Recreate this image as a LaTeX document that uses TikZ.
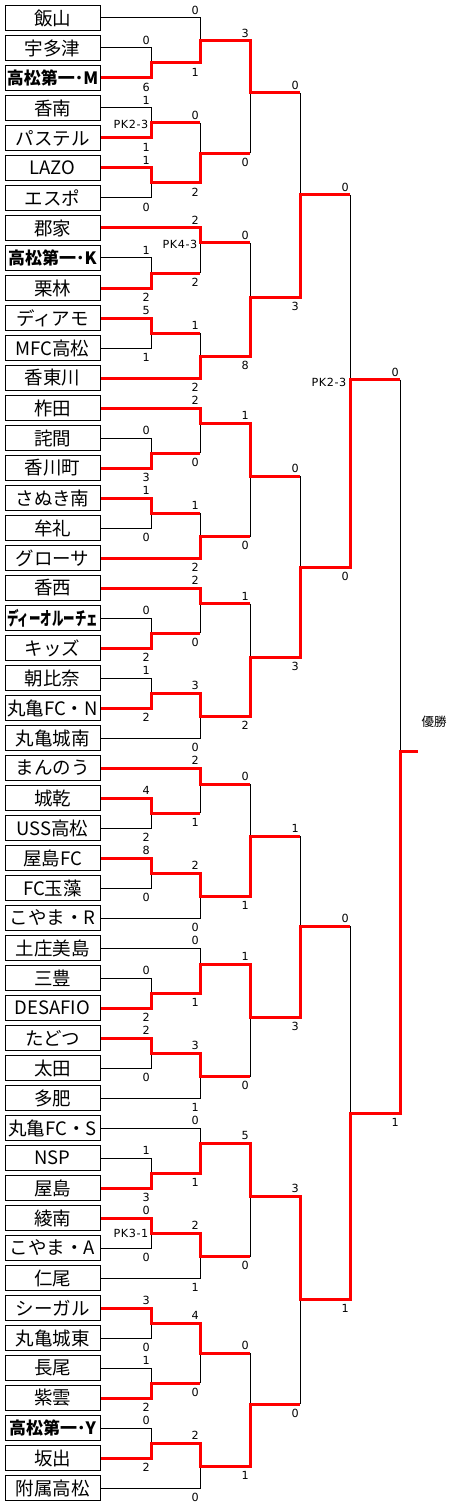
\documentclass[tikz,border=0pt]{standalone}
\usepackage{fontspec}
\newfontfamily\jpfont{Noto Sans CJK JP}
\newfontfamily\numfont[LetterSpace=5]{DejaVu Sans}
\usetikzlibrary{calc, backgrounds}
\definecolor{winred}{HTML}{FF0000}

\newcommand\boldname[1]{{\fontsize{17}{18}\selectfont\bfseries #1}}
\newcommand\squeezename[1]{\scalebox{0.62}[1]{\bfseries #1}}

% bracket legs
\newcommand\teamwin[2]{\draw[win] (#1.east) -| (#2);}
\newcommand\teamlose[2]{\draw[lose] (#1.east) -| (#2);}
\newcommand\gamewin[2]{\draw[win] (#1) -| (#2);}
\newcommand\gamelose[2]{\draw[win, line cap=butt] (#1) -- (#1 -| #2);
  \draw[lose] (#1 -| #2) -- (#2);}
\newcommand\scores[5]{%
  \node[score] (#1t) at ($(#2 -| #1)+(-4.8,-7.4)$) {#4};
  \node[score] (#1b) at ($(#3 -| #1)+(-4.8,9.2)$) {#5};}

\begin{document}
\begin{tikzpicture}[x=1pt, y=-1pt,
  team/.style={draw, line width=1pt, fill=white, minimum width=95pt, minimum height=25.4pt,
               inner sep=0pt, font=\jpfont\fontsize{18.5}{20}\selectfont},
  win/.style={winred, line width=3pt, line cap=rect},
  lose/.style={black, line width=1pt},
  score/.style={font=\numfont\fontsize{11.2}{12}\selectfont, inner sep=0pt},
  pk/.style={score, anchor=east},
]
  \useasboundingbox (0,0) rectangle (450,1506);

  \foreach \name [count=\i from 0] in {飯山, 宇多津, \boldname{高松第一･M}, 香南, パステル,
      LAZO, エスポ, 郡家, \boldname{高松第一･K}, 栗林, ディアモ, MFC高松, 香東川, 柞田, 詫間,
      香川町, さぬき南, 牟礼, グローサ, 香西, \squeezename{ディーオルーチェ}, キッズ, 朝比奈,
      丸亀FC・N, 丸亀城南, まんのう, 城乾, USS高松, 屋島FC, FC玉藻, こやま・R, 土庄美島, 三豊,
      DESAFIO, たどつ, 太田, 多肥, 丸亀FC・S, NSP, 屋島, 綾南, こやま・A, 仁尾, シーガル,
      丸亀城東, 長尾, 紫雲, \boldname{高松第一･Y}, 坂出, 附属高松}
    \node[team] (t\i) at (52.5,{18+30*\i}) {\name};

  % junctions
  \coordinate (a1) at (151,63);    \coordinate (a2) at (151,123);   \coordinate (a3) at (151,183);
  \coordinate (a4) at (151,273);   \coordinate (a5) at (151,333);   \coordinate (a6) at (151,453);
  \coordinate (a7) at (151,513);   \coordinate (a8) at (151,633);   \coordinate (a9) at (151,693);
  \coordinate (a10) at (151,813);  \coordinate (a11) at (151,873);  \coordinate (a12) at (151,993);
  \coordinate (a13) at (151,1053); \coordinate (a14) at (151,1173); \coordinate (a15) at (151,1233);
  \coordinate (a16) at (151,1323); \coordinate (a17) at (151,1383); \coordinate (a18) at (151,1443);
  \coordinate (b1) at (200,41);    \coordinate (b2) at (200,153.5);  \coordinate (b3) at (200,243);
  \coordinate (b4) at (200,356.5); \coordinate (b5) at (200,423);    \coordinate (b6) at (200,536.5);
  \coordinate (b7) at (200,603.5); \coordinate (b8) at (200,716);    \coordinate (b9) at (200,784);
  \coordinate (b10) at (200,896);  \coordinate (b11) at (200,964);   \coordinate (b12) at (200,1076.5);
  \coordinate (b13) at (200,1143); \coordinate (b14) at (200,1256.5); \coordinate (b15) at (200,1353);
  \coordinate (b16) at (200,1466.5);
  \coordinate (c1) at (250,93);   \coordinate (c2) at (250,297);  \coordinate (c3) at (250,476);
  \coordinate (c4) at (250,657);  \coordinate (c5) at (250,836);  \coordinate (c6) at (250,1017);
  \coordinate (c7) at (250,1196); \coordinate (c8) at (250,1404);
  \coordinate (d1) at (300,195);  \coordinate (d2) at (300,567);
  \coordinate (d3) at (300,926);  \coordinate (d4) at (300,1299);
  \coordinate (e1) at (350,379.5); \coordinate (e2) at (350,1113);
  \coordinate (f1) at (400,751);
  \coordinate (champ) at (416,751);

  \begin{scope}[on background layer]
    % first round
    \teamlose{t1}{a1}  \teamwin{t2}{a1}
    \teamlose{t3}{a2}  \teamwin{t4}{a2}
    \teamlose{t6}{a3}  \teamwin{t5}{a3}
    \teamlose{t8}{a4}  \teamwin{t9}{a4}
    \teamlose{t11}{a5} \teamwin{t10}{a5}
    \teamlose{t14}{a6} \teamwin{t15}{a6}
    \teamlose{t17}{a7} \teamwin{t16}{a7}
    \teamlose{t20}{a8} \teamwin{t21}{a8}
    \teamlose{t22}{a9} \teamwin{t23}{a9}
    \teamlose{t27}{a10} \teamwin{t26}{a10}
    \teamlose{t29}{a11} \teamwin{t28}{a11}
    \teamlose{t32}{a12} \teamwin{t33}{a12}
    \teamlose{t35}{a13} \teamwin{t34}{a13}
    \teamlose{t38}{a14} \teamwin{t39}{a14}
    \teamlose{t41}{a15} \teamwin{t40}{a15}
    \teamlose{t44}{a16} \teamwin{t43}{a16}
    \teamlose{t45}{a17} \teamwin{t46}{a17}
    \teamlose{t47}{a18} \teamwin{t48}{a18}
    % second round
    \teamlose{t0}{b1}  \gamewin{a1}{b1}
    \gamelose{a2}{b2}  \gamewin{a3}{b2}
    \gamelose{a4}{b3}  \teamwin{t7}{b3}
    \gamelose{a5}{b4}  \teamwin{t12}{b4}
    \gamelose{a6}{b5}  \teamwin{t13}{b5}
    \gamelose{a7}{b6}  \teamwin{t18}{b6}
    \gamelose{a8}{b7}  \teamwin{t19}{b7}
    \teamlose{t24}{b8} \gamewin{a9}{b8}
    \gamelose{a10}{b9} \teamwin{t25}{b9}
    \teamlose{t30}{b10} \gamewin{a11}{b10}
    \teamlose{t31}{b11} \gamewin{a12}{b11}
    \teamlose{t36}{b12} \gamewin{a13}{b12}
    \teamlose{t37}{b13} \gamewin{a14}{b13}
    \teamlose{t42}{b14} \gamewin{a15}{b14}
    \gamelose{a17}{b15} \gamewin{a16}{b15}
    \teamlose{t49}{b16} \gamewin{a18}{b16}
    % later rounds
    \gamelose{b2}{c1}  \gamewin{b1}{c1}
    \gamelose{b3}{c2}  \gamewin{b4}{c2}
    \gamelose{b6}{c3}  \gamewin{b5}{c3}
    \gamelose{b7}{c4}  \gamewin{b8}{c4}
    \gamelose{b9}{c5}  \gamewin{b10}{c5}
    \gamelose{b12}{c6} \gamewin{b11}{c6}
    \gamelose{b14}{c7} \gamewin{b13}{c7}
    \gamelose{b15}{c8} \gamewin{b16}{c8}
    \gamelose{c1}{d1}  \gamewin{c2}{d1}
    \gamelose{c3}{d2}  \gamewin{c4}{d2}
    \gamelose{c5}{d3}  \gamewin{c6}{d3}
    \gamelose{c8}{d4}  \gamewin{c7}{d4}
    \gamelose{d1}{e1}  \gamewin{d2}{e1}
    \gamelose{d3}{e2}  \gamewin{d4}{e2}
    \gamelose{e1}{f1}  \gamewin{e2}{f1}
    \draw[win] (f1) -- (champ);
  \end{scope}

  % scores
  \scores{a1}{t1}{t2}{0}{6}
  \scores{a2}{t3}{t4}{1}{1}
  \scores{a3}{t5}{t6}{1}{0}
  \scores{a4}{t8}{t9}{1}{2}
  \scores{a5}{t10}{t11}{5}{1}
  \scores{a6}{t14}{t15}{0}{3}
  \scores{a7}{t16}{t17}{1}{0}
  \scores{a8}{t20}{t21}{0}{2}
  \scores{a9}{t22}{t23}{1}{2}
  \scores{a10}{t26}{t27}{4}{2}
  \scores{a11}{t28}{t29}{8}{0}
  \scores{a12}{t32}{t33}{0}{2}
  \scores{a13}{t34}{t35}{2}{0}
  \scores{a14}{t38}{t39}{1}{3}
  \scores{a15}{t40}{t41}{0}{0}
  \scores{a16}{t43}{t44}{3}{0}
  \scores{a17}{t45}{t46}{1}{2}
  \scores{a18}{t47}{t48}{0}{2}
  \scores{b1}{t0}{a1}{0}{1}
  \scores{b2}{a2}{a3}{0}{2}
  \scores{b3}{t7}{a4}{2}{2}
  \scores{b4}{a5}{t12}{1}{2}
  \scores{b5}{t13}{a6}{2}{0}
  \scores{b6}{a7}{t18}{1}{2}
  \scores{b7}{t19}{a8}{2}{0}
  \scores{b8}{a9}{t24}{3}{0}
  \scores{b9}{t25}{a10}{2}{1}
  \scores{b10}{a11}{t30}{2}{0}
  \scores{b11}{t31}{a12}{0}{1}
  \scores{b12}{a13}{t36}{3}{1}
  \scores{b13}{t37}{a14}{0}{1}
  \scores{b14}{a15}{t42}{2}{1}
  \scores{b15}{a16}{a17}{4}{0}
  \scores{b16}{a18}{t49}{2}{0}
  \scores{c1}{b1}{b2}{3}{0}
  \scores{c2}{b3}{b4}{0}{8}
  \scores{c3}{b5}{b6}{1}{0}
  \scores{c4}{b7}{b8}{1}{2}
  \scores{c5}{b9}{b10}{0}{1}
  \scores{c6}{b11}{b12}{1}{0}
  \scores{c7}{b13}{b14}{5}{0}
  \scores{c8}{b15}{b16}{0}{1}
  \scores{d1}{c1}{c2}{0}{3}
  \scores{d2}{c3}{c4}{0}{3}
  \scores{d3}{c5}{c6}{1}{3}
  \scores{d4}{c7}{c8}{3}{0}
  \scores{e1}{d1}{d2}{0}{0}
  \scores{e2}{d3}{d4}{0}{1}
  \scores{f1}{e1}{e2}{0}{1}

  % penalty shoot-outs
  \node[pk] (a2pk) at ($(a2)+(-2.5,1)$) {PK2-3};
  \node[pk] (b3pk) at ($(b3)+(-2.5,1.5)$) {PK4-3};
  \node[pk] (a15pk) at ($(a15)+(-2.5,0)$) {PK3-1};
  \node[pk] (e1pk) at ($(e1)+(-3.5,3)$) {PK2-3};

  \node[font=\jpfont\fontsize{12.5}{13}\selectfont] (title) at (434,722) {優勝};
\end{tikzpicture}
\end{document}
